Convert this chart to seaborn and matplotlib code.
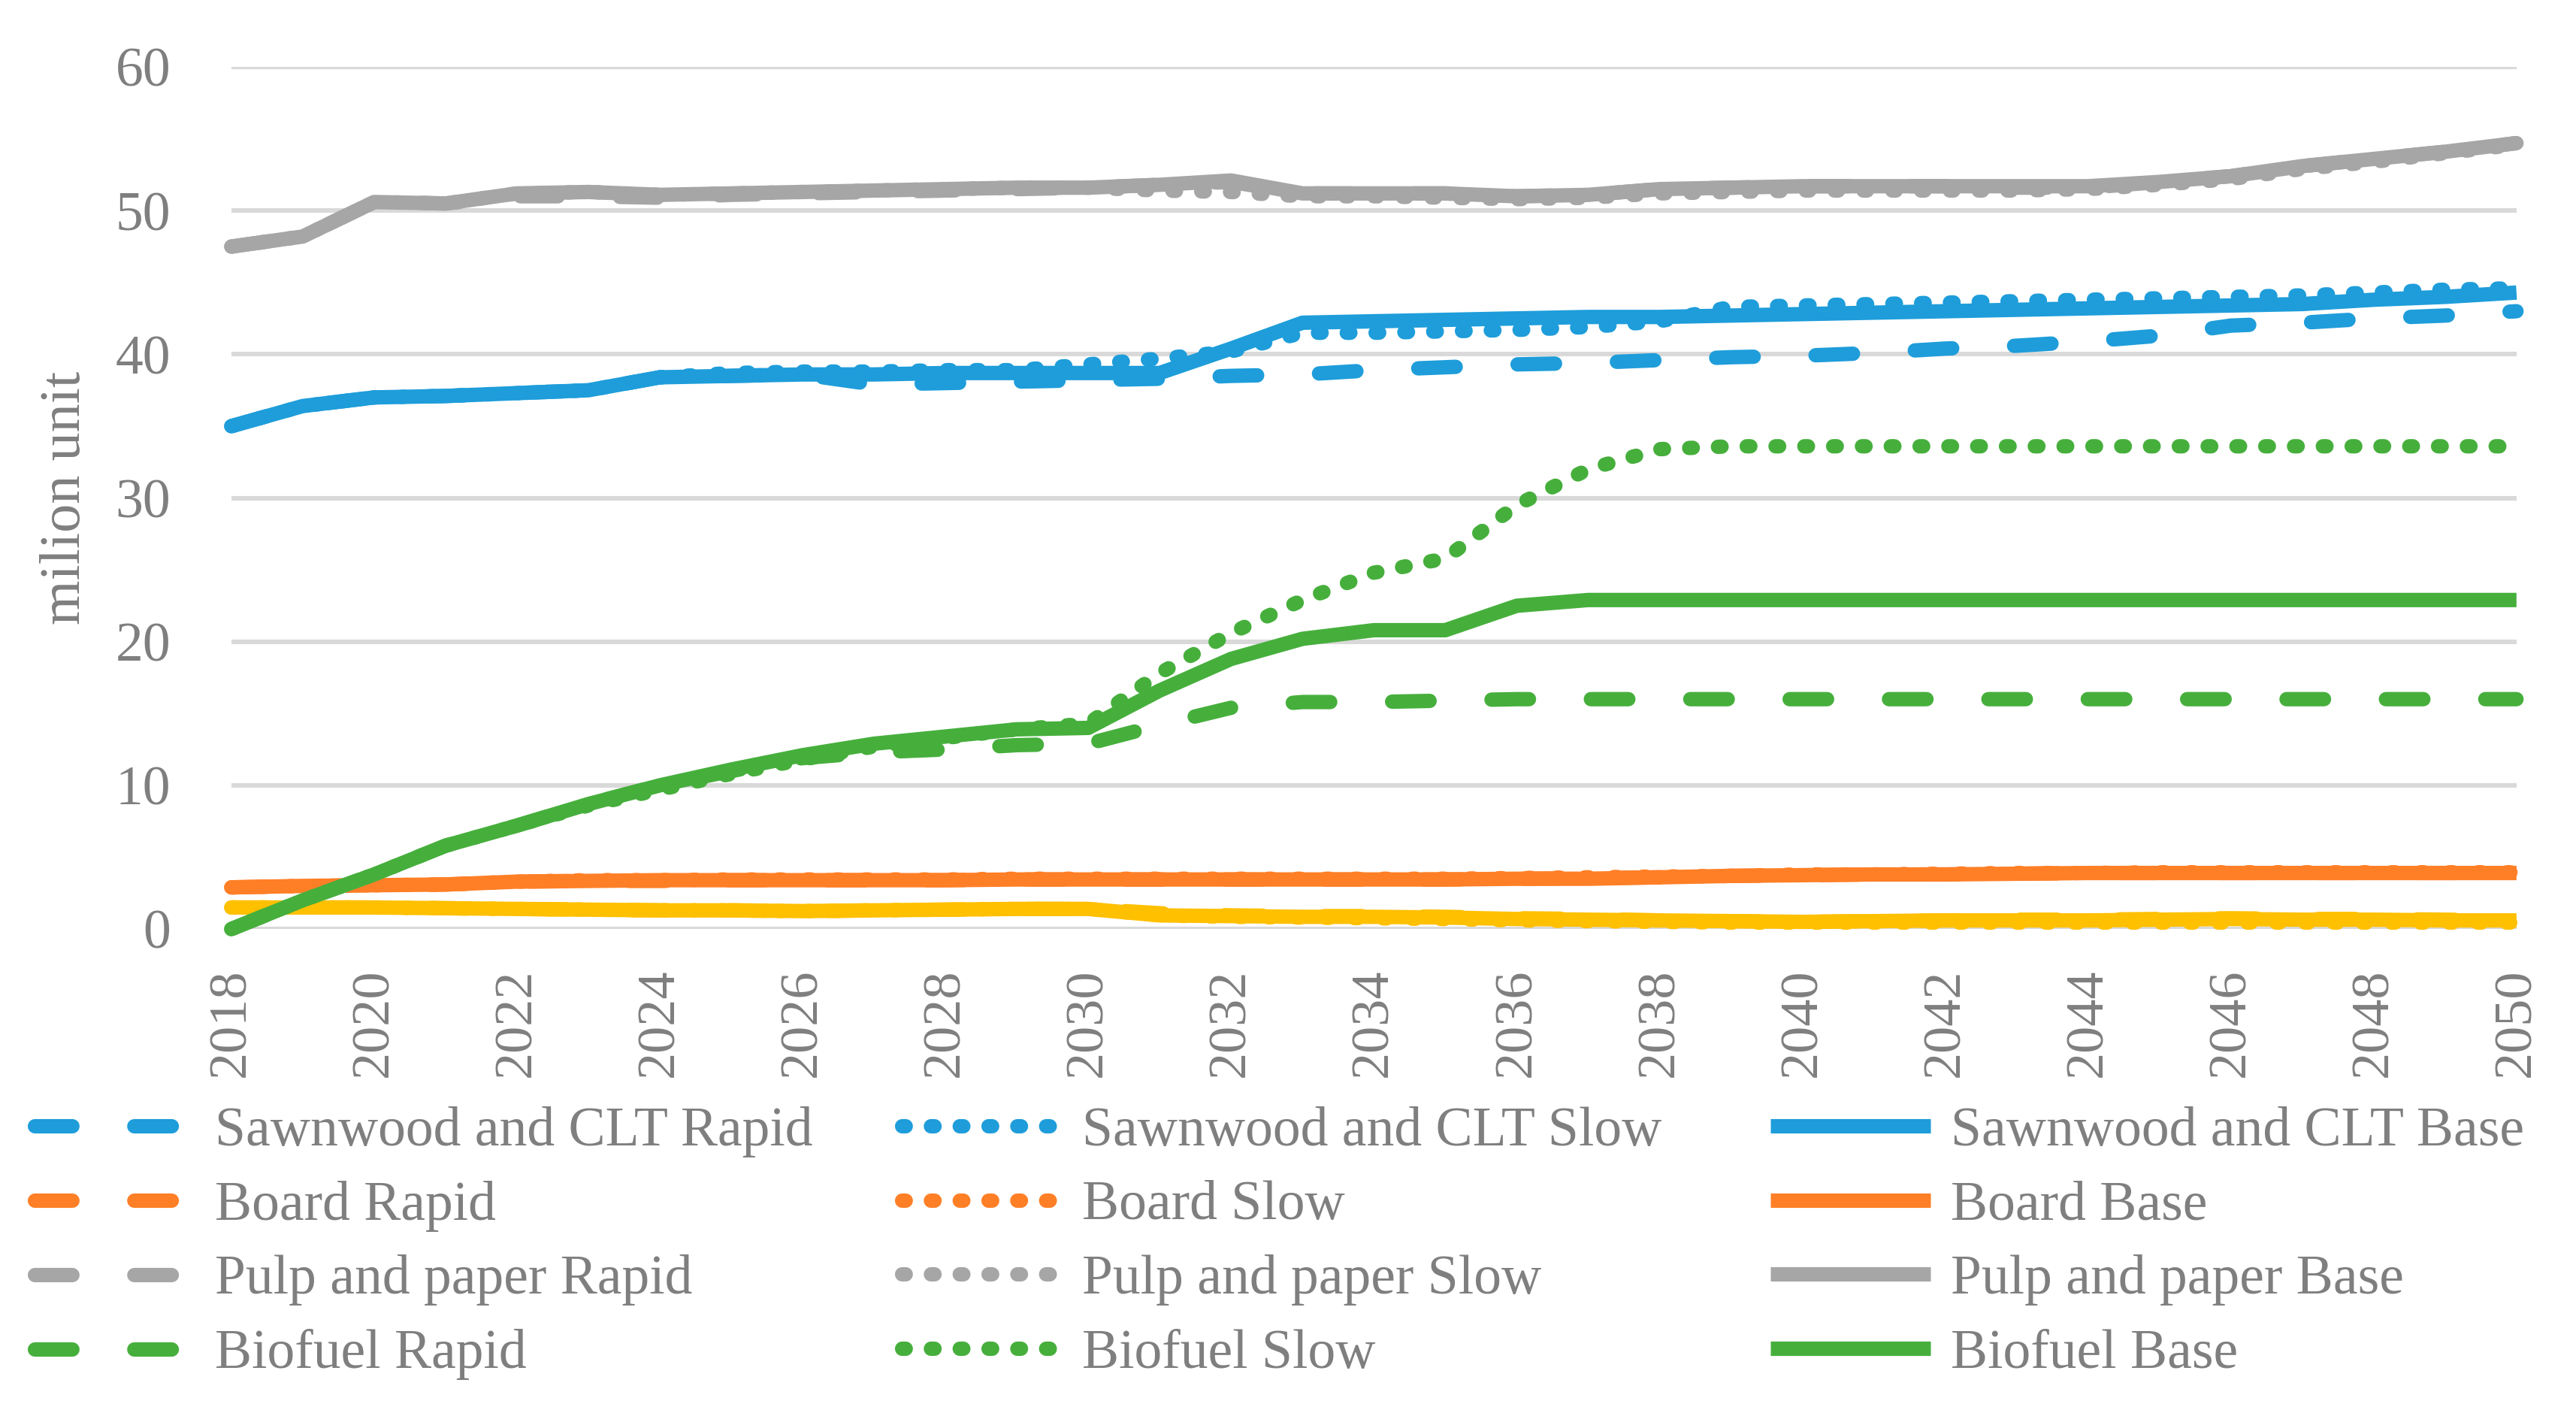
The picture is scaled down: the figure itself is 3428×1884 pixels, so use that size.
import matplotlib
matplotlib.use("Agg")
import matplotlib.pyplot as plt
import seaborn as sns
import pandas as pd

sns.set_theme(style="white")
plt.rcParams['font.family'] = ['Liberation Serif', 'DejaVu Serif']

# ---------------- data ----------------
years = list(range(2018, 2051))

sawn_rapid = [35.0, 36.4, 37.0, 37.1, 37.3, 37.5, 38.4, 38.5, 38.6, 37.9, 38.0, 38.1, 38.2, 38.3, 38.5, 38.6,
              38.9, 39.1, 39.3, 39.4, 39.6, 39.8, 39.9, 40.1, 40.4, 40.6, 40.9, 41.3, 42.0, 42.2, 42.5, 42.7, 43.0]
sawn_slow = [35.0, 36.4, 37.0, 37.1, 37.3, 37.5, 38.4, 38.7, 38.8, 38.8, 38.9, 38.9, 39.3, 39.7, 40.2, 41.5,
             41.5, 41.6, 41.7, 41.9, 42.3, 43.3, 43.4, 43.5, 43.6, 43.7, 43.8, 43.9, 44.0, 44.1, 44.3, 44.5, 44.6]
sawn_base = [35.0, 36.4, 37.0, 37.1, 37.3, 37.5, 38.4, 38.5, 38.6, 38.6, 38.7, 38.7, 38.7, 38.7, 40.4, 42.2,
             42.3, 42.4, 42.5, 42.6, 42.6, 42.7, 42.8, 42.9, 43.0, 43.1, 43.2, 43.3, 43.4, 43.5, 43.8, 44.0, 44.3]

board_rapid = [2.9, 3.0, 3.05, 3.1, 3.3, 3.35, 3.35, 3.4, 3.4, 3.4, 3.4, 3.45, 3.45, 3.45, 3.45, 3.45,
               3.45, 3.45, 3.5, 3.55, 3.6, 3.7, 3.75, 3.8, 3.8, 3.85, 3.9, 3.9, 3.9, 3.9, 3.9, 3.9, 3.9]
board_slow = [2.9, 3.0, 3.05, 3.1, 3.3, 3.4, 3.4, 3.45, 3.45, 3.45, 3.45, 3.5, 3.5, 3.5, 3.5, 3.5,
              3.5, 3.5, 3.55, 3.6, 3.65, 3.7, 3.8, 3.8, 3.85, 3.9, 3.9, 3.95, 3.95, 3.95, 3.95, 3.95, 3.95]
board_base = [2.9, 3.0, 3.05, 3.1, 3.3, 3.35, 3.4, 3.4, 3.4, 3.4, 3.4, 3.45, 3.45, 3.45, 3.45, 3.45,
              3.45, 3.45, 3.5, 3.5, 3.6, 3.7, 3.75, 3.8, 3.8, 3.85, 3.9, 3.9, 3.9, 3.9, 3.9, 3.9, 3.9]

pulp_rapid = [47.5, 48.2, 50.6, 50.5, 51.0, 51.0, 50.9, 51.1, 51.2, 51.3, 51.4, 51.5, 51.6, 51.8, 52.0, 51.2,
              51.2, 51.2, 51.0, 51.1, 51.5, 51.6, 51.7, 51.7, 51.7, 51.6, 51.6, 52.0, 52.4, 53.1, 53.6, 54.1, 54.7]
pulp_slow = [47.5, 48.2, 50.6, 50.5, 51.2, 51.3, 51.1, 51.2, 51.3, 51.4, 51.5, 51.6, 51.6, 51.4, 51.3, 51.0,
             51.0, 50.9, 50.8, 50.9, 51.2, 51.3, 51.4, 51.4, 51.4, 51.4, 51.5, 51.8, 52.2, 52.9, 53.4, 54.0, 54.6]
pulp_base = [47.5, 48.2, 50.6, 50.5, 51.2, 51.3, 51.1, 51.2, 51.3, 51.4, 51.5, 51.6, 51.6, 51.8, 52.1, 51.2,
             51.2, 51.2, 51.0, 51.1, 51.5, 51.6, 51.7, 51.7, 51.7, 51.7, 51.7, 52.0, 52.4, 53.1, 53.6, 54.1, 54.7]

other_rapid = [1.5, 1.5, 1.5, 1.45, 1.4, 1.35, 1.3, 1.3, 1.25, 1.3, 1.35, 1.4, 1.4, 1.1, 0.95, 0.9,
               0.9, 0.85, 0.75, 0.7, 0.6, 0.55, 0.5, 0.55, 0.6, 0.65, 0.65, 0.7, 0.75, 0.7, 0.7, 0.65, 0.6]
other_slow = [1.5, 1.5, 1.5, 1.45, 1.4, 1.35, 1.3, 1.3, 1.25, 1.3, 1.35, 1.4, 1.4, 0.95, 0.85, 0.8,
              0.75, 0.7, 0.6, 0.55, 0.5, 0.45, 0.45, 0.45, 0.45, 0.45, 0.45, 0.45, 0.45, 0.45, 0.45, 0.45, 0.45]
other_base = [1.5, 1.5, 1.5, 1.45, 1.4, 1.35, 1.3, 1.3, 1.25, 1.3, 1.35, 1.4, 1.4, 0.95, 0.9, 0.85,
              0.85, 0.8, 0.7, 0.65, 0.6, 0.55, 0.5, 0.55, 0.6, 0.6, 0.6, 0.65, 0.7, 0.65, 0.65, 0.6, 0.6]

bio_rapid = [0.0, 2.0, 3.8, 5.8, 7.2, 8.7, 10.0, 11.0, 11.9, 12.3, 12.5, 12.8, 12.9, 14.2, 15.4, 15.8,
             15.8, 15.9, 16.0, 16.0, 16.0, 16.0, 16.0, 16.0, 16.0, 16.0, 16.0, 16.0, 16.0, 16.0, 16.0, 16.0, 16.0]
bio_slow = [0.0, 2.0, 3.8, 5.8, 7.2, 8.6, 9.7, 10.8, 11.8, 12.7, 13.3, 13.9, 14.3, 17.8, 20.6, 22.9,
            24.8, 25.8, 29.5, 32.0, 33.4, 33.6, 33.6, 33.6, 33.6, 33.6, 33.6, 33.6, 33.6, 33.6, 33.6, 33.6, 33.6]
bio_base = [0.0, 2.0, 3.8, 5.8, 7.2, 8.7, 10.0, 11.1, 12.1, 12.9, 13.4, 13.9, 14.0, 16.6, 18.8, 20.2,
            20.8, 20.8, 22.5, 22.9, 22.9, 22.9, 22.9, 22.9, 22.9, 22.9, 22.9, 22.9, 22.9, 22.9, 22.9, 22.9, 22.9]

products = ["Sawnwood and CLT", "Board", "Pulp and paper", "Other", "Biofuel"]
scenarios = ["Rapid", "Slow", "Base"]
series = {
    ("Sawnwood and CLT", "Rapid"): sawn_rapid, ("Sawnwood and CLT", "Slow"): sawn_slow,
    ("Sawnwood and CLT", "Base"): sawn_base,
    ("Board", "Rapid"): board_rapid, ("Board", "Slow"): board_slow, ("Board", "Base"): board_base,
    ("Pulp and paper", "Rapid"): pulp_rapid, ("Pulp and paper", "Slow"): pulp_slow,
    ("Pulp and paper", "Base"): pulp_base,
    ("Other", "Rapid"): other_rapid, ("Other", "Slow"): other_slow, ("Other", "Base"): other_base,
    ("Biofuel", "Rapid"): bio_rapid, ("Biofuel", "Slow"): bio_slow, ("Biofuel", "Base"): bio_base,
}
legend_products = ["Sawnwood and CLT", "Board", "Pulp and paper", "Biofuel"]

colors = {"Sawnwood and CLT": "#1E9DDA", "Board": "#FF7F26", "Pulp and paper": "#A6A6A6",
          "Other": "#FFC000", "Biofuel": "#46AF3C"}
text_color = "#7F7F7F"
LW = 6.9
dash_patterns = {"Rapid": (2.6, 4.3), "Slow": (0.25, 1.75)}

# ---------------- figure ----------------
fig = plt.figure(figsize=(17.14, 9.42), dpi=200)
ax = fig.add_axes([0.0898, 0.3439, 0.8871, 0.6088])

handles = {}
for prod in products:
    for sc in scenarios:
        df = pd.DataFrame({"year": years, "value": series[(prod, sc)]})
        sns.lineplot(data=df, x="year", y="value", ax=ax, color=colors[prod], linewidth=LW,
                     estimator=None, sort=False, legend=False)
        line = ax.lines[-1]
        line.set_clip_on(False)
        line.set_solid_capstyle("butt")
        line.set_solid_joinstyle("round")
        line.set_dash_capstyle("round")
        line.set_dash_joinstyle("round")
        if sc in dash_patterns:
            line.set_linestyle((0, dash_patterns[sc]))
        line.set_label(f"{prod} {sc}")
        handles[(prod, sc)] = line

ax.set_xlim(2018, 2050)
ax.set_ylim(0, 60)
ax.set_xticks(list(range(2018, 2051, 2)))
ax.set_yticks([0, 10, 20, 30, 40, 50, 60])
ax.set_xlabel("")
ax.set_ylabel("")
for s in ax.spines.values():
    s.set_visible(False)
ax.grid(False)
ax.yaxis.grid(True, color="#D9D9D9", linewidth=2.2)
ax.set_axisbelow(True)
ax.tick_params(axis="x", length=0, pad=19, labelsize=26, labelcolor=text_color, labelrotation=90)
ax.tick_params(axis="y", length=0, pad=29, labelsize=26.5, labelcolor=text_color)

fig.text(0.0255, 0.6486, "milion unit", rotation=90, ha="center", va="center",
         fontsize=27.5, color=text_color)

col_x = [0.0133, 0.3500, 0.6872]
for ci, sc in enumerate(scenarios):
    hs = [handles[(p, sc)] for p in legend_products]
    labs = [f"{p} {sc}" for p in legend_products]
    leg = fig.legend(hs, labs, loc="center left", bbox_to_anchor=(col_x[ci], 0.1221),
                     frameon=False, borderpad=0, borderaxespad=0, handlelength=2.9,
                     handletextpad=0.36, labelspacing=0.42, fontsize=26.5, labelcolor=text_color)

fig.savefig("out.png", dpi=200)
